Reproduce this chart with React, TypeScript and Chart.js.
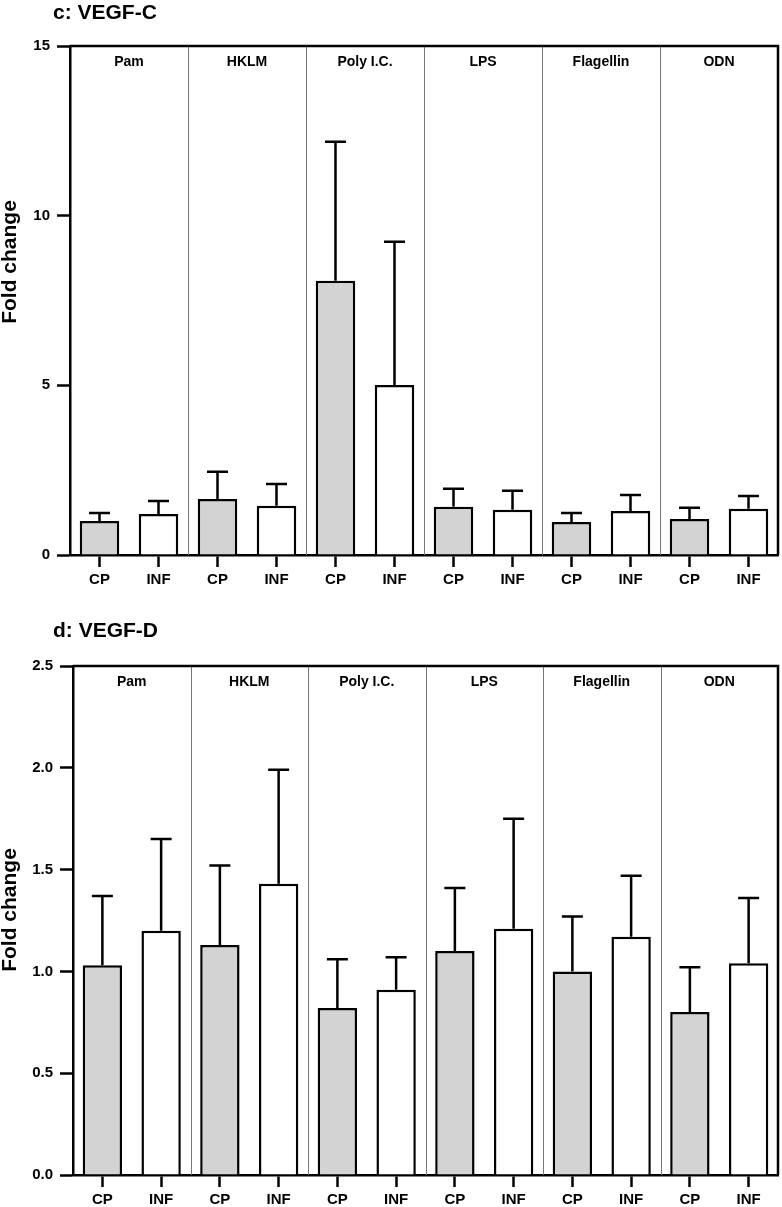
import React, { useEffect, useRef } from "react";
import { Chart, registerables } from "chart.js";

Chart.register(...registerables);

const categories = ["CP", "INF", "CP", "INF", "CP", "INF", "CP", "INF", "CP", "INF", "CP", "INF"];
const groups = ["Pam", "HKLM", "Poly I.C.", "LPS", "Flagellin", "ODN"];

const vegfCMean = [1.0, 1.21, 1.65, 1.45, 8.08, 5.01, 1.42, 1.33, 0.97, 1.3, 1.06, 1.36];
const vegfCErrTop = [1.24, 1.59, 2.45, 2.09, 12.18, 9.23, 1.95, 1.89, 1.24, 1.77, 1.39, 1.74];

const vegfDMean = [1.03, 1.2, 1.13, 1.43, 0.82, 0.91, 1.1, 1.21, 1.0, 1.17, 0.8, 1.04];
const vegfDErrTop = [1.37, 1.65, 1.52, 1.99, 1.06, 1.07, 1.41, 1.75, 1.27, 1.47, 1.02, 1.36];

const vegfCTicks = { max: 15, step: 5, decimals: 0 };
const vegfDTicks = { max: 2.5, step: 0.5, decimals: 1 };

const FONT = "'Liberation Sans', Arial, Helvetica, sans-serif";
const CP_FILL = "#d3d3d3";
const INF_FILL = "#ffffff";

type PanelProps = {
  title: string;
  means: number[];
  errTop: number[];
  ticks: { max: number; step: number; decimals: number };
  top: number;
  height: number;
  plotTop: number;
  plotBottom: number;
  plotLeft: number;
  plotRight: number;
  yTitleCenter: number;
};

function Panel(p: PanelProps) {
  const ref = useRef<HTMLCanvasElement | null>(null);
  useEffect(() => {
    const canvas = ref.current;
    if (!canvas) return;
    const decorPlugin = {
      id: "decor",
      beforeDatasetsDraw(chart: any) {
        const { ctx, chartArea, scales } = chart;
        const xs = scales.x;
        ctx.save();
        ctx.strokeStyle = "#777777";
        ctx.lineWidth = 1;
        for (let i = 1; i < groups.length; i++) {
          const x = Math.round((xs.getPixelForValue(2 * i - 1) + xs.getPixelForValue(2 * i)) / 2) + 0.5;
          ctx.beginPath();
          ctx.moveTo(x, chartArea.top);
          ctx.lineTo(x, chartArea.bottom);
          ctx.stroke();
        }
        ctx.fillStyle = "#000";
        ctx.font = `bold 14px ${FONT}`;
        ctx.textAlign = "center";
        ctx.textBaseline = "alphabetic";
        for (let i = 0; i < groups.length; i++) {
          const x = (xs.getPixelForValue(2 * i) + xs.getPixelForValue(2 * i + 1)) / 2;
          ctx.fillText(groups[i], x, chartArea.top + 20);
        }
        ctx.restore();
      },
      afterDatasetsDraw(chart: any) {
        const { ctx, chartArea, scales } = chart;
        const xs = scales.x;
        const ys = scales.y;
        ctx.save();
        ctx.strokeStyle = "#000";
        ctx.lineWidth = 2.5;
        for (let i = 0; i < p.means.length; i++) {
          const x = xs.getPixelForValue(i);
          const y0 = ys.getPixelForValue(p.means[i]);
          const y1 = ys.getPixelForValue(p.errTop[i]);
          ctx.beginPath();
          ctx.moveTo(x, y0);
          ctx.lineTo(x, y1);
          ctx.moveTo(x - 10.5, y1);
          ctx.lineTo(x + 10.5, y1);
          ctx.stroke();
        }
        ctx.lineWidth = 2.5;
        ctx.beginPath();
        ctx.moveTo(chartArea.left, chartArea.top);
        ctx.lineTo(chartArea.right, chartArea.top);
        ctx.lineTo(chartArea.right, chartArea.bottom);
        ctx.stroke();
        ctx.restore();
      },
      afterDraw(chart: any) {
        const { ctx } = chart;
        ctx.save();
        ctx.fillStyle = "#000";
        ctx.font = `bold 21px ${FONT}`;
        ctx.textAlign = "left";
        ctx.textBaseline = "alphabetic";
        ctx.fillText(p.title, 53, 19);
        ctx.translate(10, p.yTitleCenter);
        ctx.rotate(-Math.PI / 2);
        ctx.textAlign = "center";
        ctx.textBaseline = "middle";
        ctx.fillText("Fold change", 0, 0);
        ctx.restore();
      },
    };

    const chart = new Chart(canvas, {
      type: "bar",
      data: {
        labels: categories,
        datasets: [
          {
            data: p.means,
            backgroundColor: categories.map((c) => (c === "CP" ? CP_FILL : INF_FILL)),
            borderColor: "#000",
            borderWidth: 2.5,
            barPercentage: 0.67,
            categoryPercentage: 1,
          },
        ],
      },
      options: {
        animation: false,
        responsive: false,
        maintainAspectRatio: false,
        devicePixelRatio: 1,
        layout: { padding: { top: p.plotTop, left: 0, right: 782 - p.plotRight, bottom: 0 } },
        plugins: { legend: { display: false }, tooltip: { enabled: false }, title: { display: false } },
        scales: {
          x: {
            offset: true,
            grid: {
              offset: false,
              drawOnChartArea: false,
              drawTicks: true,
              tickLength: 12,
              tickColor: "#000",
              tickWidth: 2.5,
            },
            border: { display: true, color: "#000", width: 2.5 },
            ticks: {
              color: "#000",
              font: { family: FONT, size: 15, weight: "bold" },
              padding: 4,
              maxRotation: 0,
              autoSkip: false,
            },
            afterFit(scale: any) {
              scale.height = p.height - p.plotBottom;
            },
          },
          y: {
            min: 0,
            max: p.ticks.max,
            grid: {
              drawOnChartArea: false,
              drawTicks: true,
              tickLength: 13,
              tickColor: "#000",
              tickWidth: 2.5,
            },
            border: { display: true, color: "#000", width: 2.5 },
            ticks: {
              stepSize: p.ticks.step,
              color: "#000",
              font: { family: FONT, size: 15, weight: "bold" },
              padding: 7,
              callback: (v: any) => Number(v).toFixed(p.ticks.decimals),
            },
            afterFit(scale: any) {
              scale.width = p.plotLeft;
            },
          },
        },
      },
      plugins: [decorPlugin],
    });
    return () => chart.destroy();
  }, []);
  return (
    <canvas
      ref={ref}
      width={782}
      height={p.height}
      style={{ position: "absolute", left: 0, top: p.top, width: 782, height: p.height }}
    />
  );
}

export default function App() {
  return (
    <div style={{ position: "absolute", left: 0, top: 0, width: 782, height: 1207, background: "#fff", overflow: "hidden" }}>
      <Panel
        title="c: VEGF-C"
        means={vegfCMean}
        errTop={vegfCErrTop}
        ticks={vegfCTicks}
        top={0}
        height={618}
        plotTop={46}
        plotBottom={555}
        plotLeft={70}
        plotRight={778}
        yTitleCenter={262}
      />
      <Panel
        title="d: VEGF-D"
        means={vegfDMean}
        errTop={vegfDErrTop}
        ticks={vegfDTicks}
        top={618}
        height={589}
        plotTop={48}
        plotBottom={557}
        plotLeft={73}
        plotRight={778}
        yTitleCenter={292}
      />
    </div>
  );
}
